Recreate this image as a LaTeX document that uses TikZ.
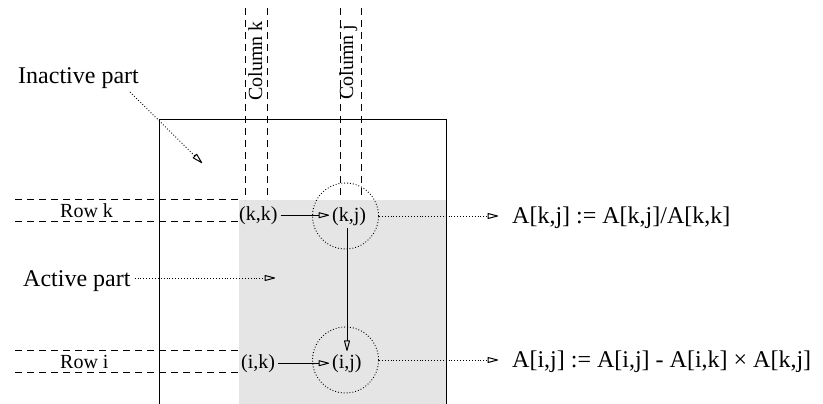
\documentclass[tikz,border=0pt]{standalone}
\usepackage{fontspec}
\setmainfont{Liberation Serif}
\usetikzlibrary{arrows.meta}
\begin{document}
\begin{tikzpicture}[x=1pt,y=-1pt,
  big/.style={font=\fontsize{24}{28}\selectfont, inner sep=0pt, anchor=base west},
  small/.style={font=\fontsize{20}{24}\selectfont, inner sep=0pt, anchor=base west},
  elem/.style={small, inner sep=3pt},
  guide/.style={dashed, dash pattern=on 7pt off 5pt, line width=0.8pt},
  focus/.style={draw, circle, dotted, line width=0.9pt, minimum size=66pt, inner sep=0pt},
  tip/.style={-{Triangle[open,length=12pt,width=6pt,line width=1pt,round]}},
  solidarrow/.style={tip, line width=1pt},
  dotarrow/.style={tip, dotted, line width=0.9pt}]
  \useasboundingbox (0,0) rectangle (823,404);

  % active sub-matrix
  \fill[black!10] (239,200) rectangle (446,404);

  % column and row guides
  \draw[guide] (245,8) -- (245,200);
  \draw[guide] (267,8) -- (267,200);
  \draw[guide] (340,8) -- (340,198);
  \draw[guide] (361,8) -- (361,198);
  \draw[guide] (15,199) -- (239,199);
  \draw[guide] (15,221) -- (239,221);
  \draw[guide] (15,350) -- (239,350);
  \draw[guide] (15,372) -- (239,372);

  % matrix outline
  \draw[line width=1pt] (159,404) -- (159,120) -- (446,120) -- (446,404);

  % guide labels
  \node[small, rotate=90] (colk) at (262,101) {Column k};
  \node[small, rotate=90] (colj) at (353,100) {Column j};
  \node[small] (rowk) at (60,217) {Row k};
  \node[small] (rowi) at (60,368) {Row i};

  % matrix elements
  \node[elem] (kk) at (236,220) {(k,k)};
  \node[elem] (kj) at (329,221) {(k,j)};
  \node[elem] (ik) at (238,368) {(i,k)};
  \node[elem] (ij) at (329,368) {(i,j)};
  \node[focus] (ckj) at (345.5,216) {};
  \node[focus] (cij) at (345.5,360) {};

  \draw[solidarrow] (kk.east) -- (kk.east -| kj.west);
  \draw[solidarrow] (ik.east) -- (ik.east -| ij.west);
  \draw[solidarrow] (kj.south -| 347,0) -- (ij.north -| 347,0);

  % update formulas
  \node[big] (fkj) at (512,223) {A[k,j] := A[k,j]/A[k,k]};
  \node[big] (fij) at (512,367) {A[i,j] := A[i,j] - A[i,k] × A[k,j]};
  \draw[dotarrow, shorten >=14pt] (ckj.east) -- (ckj.east -| fkj.west);
  \draw[dotarrow, shorten >=14pt] (cij.east) -- (cij.east -| fij.west);

  % region labels
  \node[big] (inactive) at (18,84) {Inactive part};
  \node[big] (active) at (23,286) {Active part};
  \coordinate (inactiveend) at (202,163);
  \coordinate (activeend) at (275,278);
  \draw[dotarrow] (130,92) -- (inactiveend);
  \draw[dotarrow] (active.east |- activeend) ++(4,0) -- (activeend);
\end{tikzpicture}
\end{document}
